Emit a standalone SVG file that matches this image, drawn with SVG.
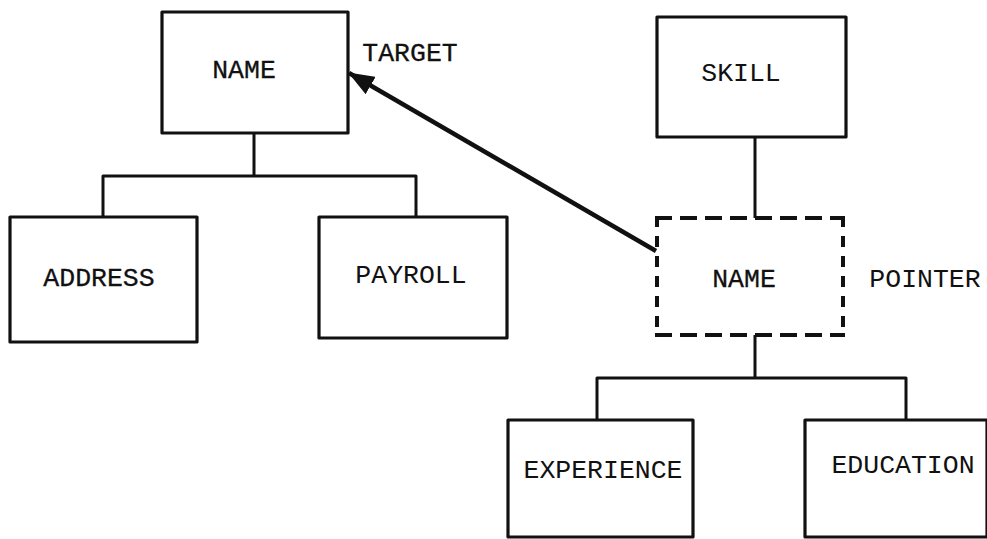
<svg xmlns="http://www.w3.org/2000/svg" width="987" height="539" viewBox="0 0 987 539">
  <style>
    .box { fill: #ffffff; stroke: #111111; stroke-width: 3.2; stroke-linejoin: round; }
    .dash-h { fill: none; stroke: #111111; stroke-width: 4; stroke-dasharray: 17 8; stroke-linecap: butt; }
    .dash-v { fill: none; stroke: #111111; stroke-width: 4; stroke-dasharray: 11 9; stroke-linecap: butt; }
    .link { fill: none; stroke: #111111; stroke-width: 3; stroke-linejoin: round; }
    .ptr { fill: none; stroke: #111111; stroke-width: 4.5; }
    .label { font-family: "Courier New", "Nimbus Mono PS", "FreeMono", "Liberation Mono", monospace; font-size: 26.5px; fill: #111111; text-anchor: middle; }
    .heavy { stroke: #111111; stroke-width: 0.3; }
  </style>
  <defs>
    <marker id="head" viewBox="0 0 26 20" refX="25" refY="10" markerWidth="26" markerHeight="20" markerUnits="userSpaceOnUse" orient="auto">
      <path d="M0,0 L26,10 L0,20 Z" fill="#111111"/>
    </marker>
  </defs>

  <rect width="987" height="539" fill="#ffffff"/>

  <!-- connectors -->
  <g id="connectors">
    <!-- NAME to its children -->
    <path class="link" d="M254,133 V176 M103,217 V176 H416 V217"/>
    <!-- SKILL to pointer segment -->
    <path class="link" d="M755,137 V218"/>
    <!-- pointer segment to its children -->
    <path class="link" d="M755,335 V378 M597,420 V378 H906 V420"/>
    <!-- pointer to target -->
    <line class="ptr" x1="656" y1="251" x2="349" y2="73" marker-end="url(#head)"/>
  </g>

  <!-- target segment -->
  <g id="name-target">
    <rect class="box" x="162" y="12" width="186" height="121"/>
    <text class="label heavy" x="244" y="78">NAME</text>
    <text class="label heavy" x="410" y="61">TARGET</text>
  </g>

  <g id="address">
    <rect class="box" x="10" y="217" width="187" height="125"/>
    <text class="label heavy" x="99" y="286">ADDRESS</text>
  </g>

  <g id="payroll">
    <rect class="box" x="319" y="217" width="188" height="121"/>
    <text class="label" x="411" y="283">PAYROLL</text>
  </g>

  <g id="skill">
    <rect class="box" x="657" y="17" width="189" height="120"/>
    <text class="label" x="741" y="81">SKILL</text>
  </g>

  <!-- pointer segment, drawn with a dashed outline -->
  <g id="name-pointer">
    <rect x="657" y="218" width="186" height="117" fill="#ffffff"/>
    <path class="dash-h" d="M655,218 H845 M655,335 H845"/>
    <path class="dash-v" d="M657,216 V337 M843,216 V337"/>
    <text class="label heavy" x="744" y="287">NAME</text>
    <text class="label" x="925" y="287">POINTER</text>
  </g>

  <g id="experience">
    <rect class="box" x="508" y="420" width="185" height="117"/>
    <text class="label" x="603" y="478">EXPERIENCE</text>
  </g>

  <g id="education">
    <rect class="box" x="805" y="420" width="182" height="117"/>
    <text class="label" x="903" y="473">EDUCATION</text>
  </g>
</svg>
